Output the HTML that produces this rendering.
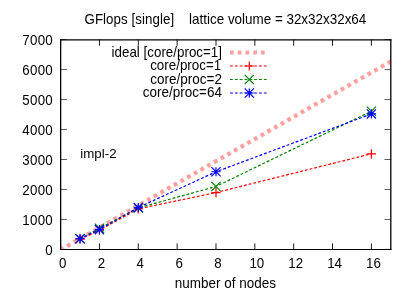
<!DOCTYPE html>
<html><head><meta charset="utf-8"><title>GFlops</title>
<style>
html,body{margin:0;padding:0;background:#fff;}
body{width:415px;height:290px;overflow:hidden;}
svg{display:block;}
text{font-family:"Liberation Sans",Arial,Helvetica,sans-serif;font-size:13.33px;fill:#000;}
</style></head><body>
<svg width="415" height="290" viewBox="0 0 415 290">
<rect width="415" height="290" fill="#fff"/>

<path d="M60.60 249.40h6.3M390.80 249.40h-6.3M60.60 219.43h6.3M390.80 219.43h-6.3M60.60 189.46h6.3M390.80 189.46h-6.3M60.60 159.49h6.3M390.80 159.49h-6.3M60.60 129.51h6.3M390.80 129.51h-6.3M60.60 99.54h6.3M390.80 99.54h-6.3M60.60 69.57h6.3M390.80 69.57h-6.3M60.60 39.60h6.3M390.80 39.60h-6.3" stroke="#000" stroke-width="0.65" fill="none"/>
<path d="M60.60 249.40v-6M60.60 39.60v6.2M99.45 249.40v-6M99.45 39.60v6.2M138.29 249.40v-6M138.29 39.60v6.2M177.14 249.40v-6M177.14 39.60v6.2M215.99 249.40v-6M215.99 39.60v6.2M254.84 249.40v-6M254.84 39.60v6.2M293.68 249.40v-6M293.68 39.60v6.2M332.53 249.40v-6M332.53 39.60v6.2M371.38 249.40v-6M371.38 39.60v6.2" stroke="#000" stroke-width="0.9" fill="none"/>
<clipPath id="pc"><rect x="60.60" y="39.60" width="330.20" height="209.80"/></clipPath>
<line clip-path="url(#pc)" x1="60.60" y1="249.85" x2="390.80" y2="61.39" stroke="#ffa0a0" stroke-width="4.2" stroke-dasharray="3.8 3.89" stroke-dashoffset="0.3"/>
<line x1="230" y1="52.4" x2="267" y2="52.4" stroke="#ffa0a0" stroke-width="4" stroke-dasharray="3.7 4.05"/>
<polyline points="80.02,239.15 99.45,230.22 138.29,208.85 215.99,192.60 371.38,153.79" fill="none" stroke="#ff0000" stroke-width="1.2" stroke-dasharray="2.9 1.93"/>
<line x1="230" y1="66.00" x2="267" y2="66.00" stroke="#ff0000" stroke-width="1.2" stroke-dasharray="2.9 1.93"/>
<path d="M75.42 239.15h9.20M80.02 234.55v9.20M94.85 230.22h9.20M99.45 225.62v9.20M133.69 208.85h9.20M138.29 204.25v9.20M211.39 192.60h9.20M215.99 188.00v9.20M366.78 153.79h9.20M371.38 149.19v9.20M244.70 66.00h9.20M249.30 61.40v9.20" fill="none" stroke="#ff0000" stroke-width="1.2"/>
<polyline points="80.02,238.70 99.45,228.27 138.29,207.89 215.99,186.46 371.38,111.23" fill="none" stroke="#008000" stroke-width="1.2" stroke-dasharray="2.9 1.93"/>
<line x1="230" y1="79.50" x2="267" y2="79.50" stroke="#008000" stroke-width="1.2" stroke-dasharray="2.9 1.93"/>
<path d="M75.42 234.10l9.20 9.20M75.42 243.30l9.20 -9.20M94.85 223.67l9.20 9.20M94.85 232.87l9.20 -9.20M133.69 203.29l9.20 9.20M133.69 212.49l9.20 -9.20M211.39 181.86l9.20 9.20M211.39 191.06l9.20 -9.20M366.78 106.63l9.20 9.20M366.78 115.83l9.20 -9.20M244.70 74.90l9.20 9.20M244.70 84.10l9.20 -9.20" fill="none" stroke="#008000" stroke-width="1.2"/>
<polyline points="80.02,238.70 99.45,229.62 138.29,207.53 215.99,171.77 371.38,113.93" fill="none" stroke="#0000ff" stroke-width="1.2" stroke-dasharray="2.9 1.93"/>
<line x1="230" y1="93.00" x2="267" y2="93.00" stroke="#0000ff" stroke-width="1.2" stroke-dasharray="2.9 1.93"/>
<path d="M75.42 238.70h9.20M80.02 234.10v9.20M75.42 234.10l9.20 9.20M75.42 243.30l9.20 -9.20M94.85 229.62h9.20M99.45 225.02v9.20M94.85 225.02l9.20 9.20M94.85 234.22l9.20 -9.20M133.69 207.53h9.20M138.29 202.93v9.20M133.69 202.93l9.20 9.20M133.69 212.13l9.20 -9.20M211.39 171.77h9.20M215.99 167.17v9.20M211.39 167.17l9.20 9.20M211.39 176.37l9.20 -9.20M366.78 113.93h9.20M371.38 109.33v9.20M366.78 109.33l9.20 9.20M366.78 118.53l9.20 -9.20M244.70 93.00h9.20M249.30 88.40v9.20M244.70 88.40l9.20 9.20M244.70 97.60l9.20 -9.20" fill="none" stroke="#0000ff" stroke-width="1.2"/>
<path d="M60.00 39.80H391.45" stroke="#000" stroke-width="1.3" fill="none"/>
<path d="M60.00 249.45H391.45" stroke="#000" stroke-width="1.1" fill="none"/>
<path d="M60.65 39.15V250.00" stroke="#000" stroke-width="1.3" fill="none"/>
<path d="M390.80 39.15V250.00" stroke="#000" stroke-width="1.3" fill="none"/>
<text transform="translate(84.50 24.10) scale(1.0 1.06)" text-anchor="start" textLength="89.6" lengthAdjust="spacing">GFlops [single]</text>
<text transform="translate(189.10 24.10) scale(1.008 1.05)" text-anchor="start">lattice volume = 32x32x32x64</text>
<text transform="translate(52.70 254.60) scale(1.0 1.1)" text-anchor="end">0</text>
<text transform="translate(52.70 224.63) scale(1.0 1.1)" text-anchor="end" textLength="30.35" lengthAdjust="spacing">1000</text>
<text transform="translate(52.70 194.66) scale(1.0 1.1)" text-anchor="end" textLength="30.35" lengthAdjust="spacing">2000</text>
<text transform="translate(52.70 164.69) scale(1.0 1.1)" text-anchor="end" textLength="30.35" lengthAdjust="spacing">3000</text>
<text transform="translate(52.70 134.71) scale(1.0 1.1)" text-anchor="end" textLength="30.35" lengthAdjust="spacing">4000</text>
<text transform="translate(52.70 104.74) scale(1.0 1.1)" text-anchor="end" textLength="30.35" lengthAdjust="spacing">5000</text>
<text transform="translate(52.70 74.77) scale(1.0 1.1)" text-anchor="end" textLength="30.35" lengthAdjust="spacing">6000</text>
<text transform="translate(52.70 44.80) scale(1.0 1.1)" text-anchor="end" textLength="30.35" lengthAdjust="spacing">7000</text>
<text transform="translate(62.60 267.90) scale(1.0 1.1)" text-anchor="middle">0</text>
<text transform="translate(101.45 267.90) scale(1.0 1.1)" text-anchor="middle">2</text>
<text transform="translate(140.29 267.90) scale(1.0 1.1)" text-anchor="middle">4</text>
<text transform="translate(179.14 267.90) scale(1.0 1.1)" text-anchor="middle">6</text>
<text transform="translate(217.99 267.90) scale(1.0 1.1)" text-anchor="middle">8</text>
<text transform="translate(256.84 267.90) scale(1.0 1.1)" text-anchor="middle">10</text>
<text transform="translate(295.68 267.90) scale(1.0 1.1)" text-anchor="middle">12</text>
<text transform="translate(334.53 267.90) scale(1.0 1.1)" text-anchor="middle">14</text>
<text transform="translate(373.38 267.90) scale(1.0 1.1)" text-anchor="middle">16</text>
<text transform="translate(225.40 287.90) scale(1.012 1.03)" text-anchor="middle">number of nodes</text>
<text transform="translate(80.30 158.00) scale(1.0 1.01)" text-anchor="start">impl-2</text>
<text transform="translate(222.00 56.70) scale(1.004 1.05)" text-anchor="end">ideal [core/proc=1]</text>
<text transform="translate(221.20 70.20) scale(1.004 1.05)" text-anchor="end">core/proc=1</text>
<text transform="translate(222.00 83.70) scale(1.013 1.05)" text-anchor="end">core/proc=2</text>
<text transform="translate(222.00 97.20) scale(1.013 1.05)" text-anchor="end">core/proc=64</text>
</svg></body></html>
